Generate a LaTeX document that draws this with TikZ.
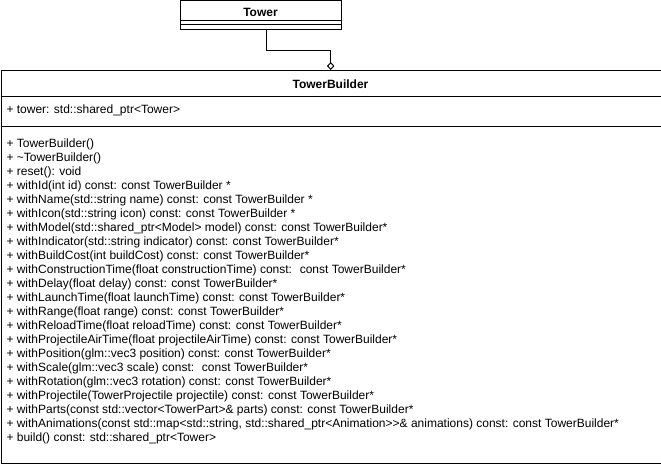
\documentclass[tikz,border=0pt]{standalone}
\usepackage{fontspec}
\setmainfont{Liberation Sans}
\usetikzlibrary{arrows.meta}
\begin{document}
\begin{tikzpicture}[x=1pt,y=-1pt,line width=1pt,
  txt/.style={anchor=west,inner sep=0pt,font=\fontsize{12}{14}\selectfont},
  ttl/.style={inner sep=0pt,font=\fontsize{12}{14}\selectfont\bfseries},
  agg/.style={-{Diamond[open,length=8pt,width=7.5pt,line width=1pt]}}]
\useasboundingbox (0,0) rectangle (661,464);
% Tower class
\node[draw,rectangle,minimum width=160.5pt,minimum height=28.3pt,inner sep=0pt,anchor=north west] (tower) at (180.3,0.4) {};
\node[ttl] (towert) at (260.5,12.5) {Tower};
\draw (180.3,20.7) -- (340.8,20.7);
\draw (180.3,24) -- (340.8,24);
% TowerBuilder class
\node[draw,rectangle,minimum width=660pt,minimum height=392.5pt,inner sep=0pt,anchor=north west] (tb) at (0.5,70) {};
\node[ttl] (tbt) at (330.5,84.5) {TowerBuilder};
\draw (0.5,96.5) -- (660.5,96.5);
\node[txt] (attr) at (6,110) {+ tower: std::shared\_ptr<Tower>};
\draw (0.5,126.7) -- (660.5,126.7);
\foreach \i/\t in {
0/{+ TowerBuilder()},
1/{+ \textasciitilde TowerBuilder()},
2/{+ reset(): void},
3/{+ withId(int id) const: const TowerBuilder *},
4/{+ withName(std::string name) const: const TowerBuilder *},
5/{+ withIcon(std::string icon) const: const TowerBuilder *},
6/{+ withModel(std::shared\_ptr<Model> model) const: const TowerBuilder*},
7/{+ withIndicator(std::string indicator) const: const TowerBuilder*},
8/{+ withBuildCost(int buildCost) const: const TowerBuilder*},
9/{+ withConstructionTime(float constructionTime) const: \ const TowerBuilder*},
10/{+ withDelay(float delay) const: const TowerBuilder*},
11/{+ withLaunchTime(float launchTime) const: const TowerBuilder*},
12/{+ withRange(float range) const: const TowerBuilder*},
13/{+ withReloadTime(float reloadTime) const: const TowerBuilder*},
14/{+ withProjectileAirTime(float projectileAirTime) const: const TowerBuilder*},
15/{+ withPosition(glm::vec3 position) const: const TowerBuilder*},
16/{+ withScale(glm::vec3 scale) const: \ const TowerBuilder*},
17/{+ withRotation(glm::vec3 rotation) const: const TowerBuilder*},
18/{+ withProjectile(TowerProjectile projectile) const: const TowerBuilder*},
19/{+ withParts(const std::vector<TowerPart>\& parts) const: const TowerBuilder*},
20/{+ withAnimations(const std::map<std::string, std::shared\_ptr<Animation>{}>\& animations) const: const TowerBuilder*},
21/{+ build() const: std::shared\_ptr<Tower>}}
  \node[txt] (m\i) at (6,144+14*\i) {\t};
% aggregation
\coordinate (dx) at (266,0);
\coordinate (bend) at (330.7,50.7);
\draw[agg] (tower.south -| dx) |- (bend) -- (bend |- tb.north);
\end{tikzpicture}
\end{document}
